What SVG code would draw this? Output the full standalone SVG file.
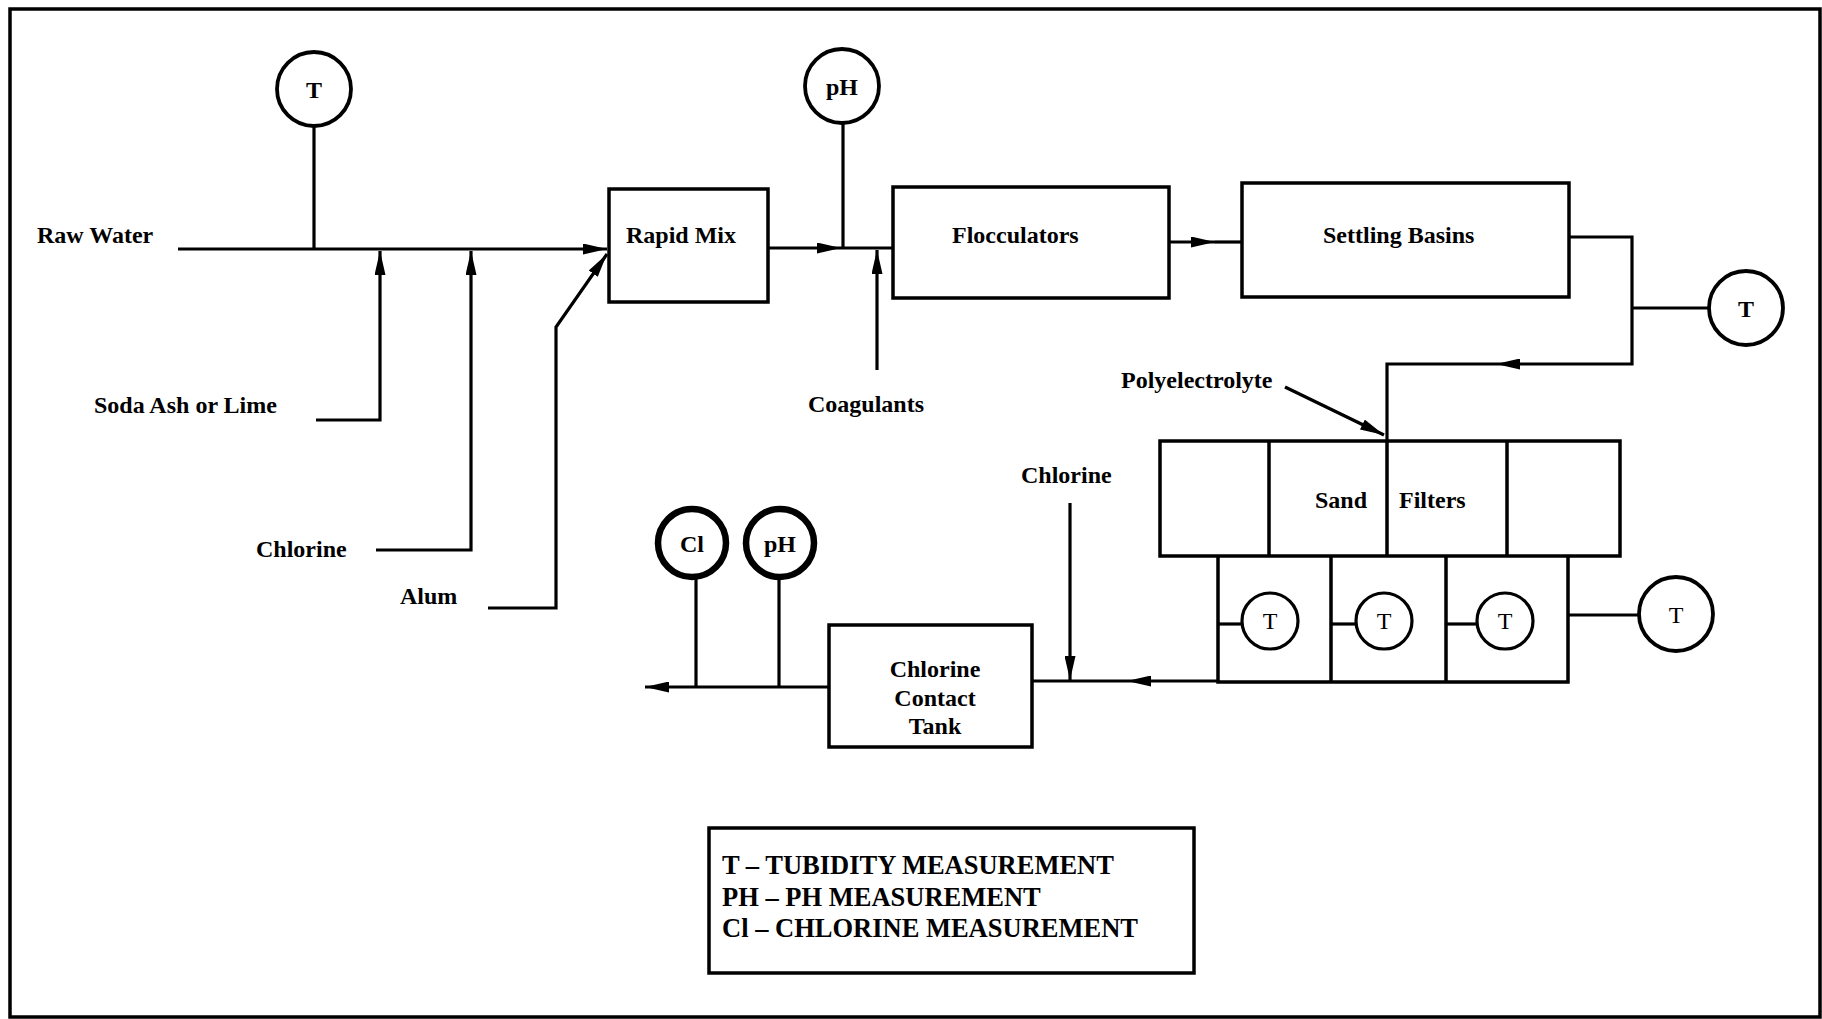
<svg xmlns="http://www.w3.org/2000/svg" width="1822" height="1019" viewBox="0 0 1822 1019">
<style>
  .bg { fill: #ffffff; }
  .frame { fill: none; stroke: #000; stroke-width: 3.5; }
  .box { fill: none; stroke: #000; stroke-width: 3.5; }
  .line { fill: none; stroke: #000; stroke-width: 3.2; }
  .ring { fill: #fff; stroke: #000; stroke-width: 3.8; }
  .ringthick { fill: #fff; stroke: #000; stroke-width: 6.5; }
  .ringthin { fill: #fff; stroke: #000; stroke-width: 3.2; }
  .lbl { font-family: "Liberation Serif", "Times New Roman", serif; font-weight: bold; font-size: 24px; fill: #000; }
  .mid { text-anchor: middle; }
  .sym { font-family: "Liberation Serif", "Times New Roman", serif; font-weight: bold; font-size: 24px; fill: #000; text-anchor: middle; }
  .symr { font-family: "Liberation Serif", "Times New Roman", serif; font-weight: normal; font-size: 24px; fill: #000; text-anchor: middle; }
  .legend { font-family: "Liberation Serif", "Times New Roman", serif; font-weight: bold; font-size: 26.5px; fill: #000; }
</style>
<defs>
  <marker id="arr" markerUnits="userSpaceOnUse" markerWidth="24" markerHeight="11" refX="24" refY="5.5" orient="auto">
    <path d="M0,0 L24,5.5 L0,11 z" fill="#000"/>
  </marker>
</defs>
<rect class="bg" x="0" y="0" width="1822" height="1019"/>
<rect class="frame" x="10" y="9" width="1810" height="1008"/>

<g id="connectors">
  <path class="line" d="M178,249 H607" marker-end="url(#arr)"/>
  <path class="line" d="M314,126 V249"/>
  <path class="line" d="M316,420 H380 V251" marker-end="url(#arr)"/>
  <path class="line" d="M376,550 H471 V251" marker-end="url(#arr)"/>
  <path class="line" d="M488,608 H556 V327 L607,254" marker-end="url(#arr)"/>
  <path class="line" d="M768,248 H841" marker-end="url(#arr)"/>
  <path class="line" d="M841,248 H893"/>
  <path class="line" d="M843,123 V248"/>
  <path class="line" d="M877,370 V250" marker-end="url(#arr)"/>
  <path class="line" d="M1169,242 H1215" marker-end="url(#arr)"/>
  <path class="line" d="M1215,242 H1242"/>
  <path class="line" d="M1569,237 H1632 V364 H1496" marker-end="url(#arr)"/>
  <path class="line" d="M1496,364 H1387 V441"/>
  <path class="line" d="M1632,308 H1709"/>
  <path class="line" d="M1285,387 L1384,435" marker-end="url(#arr)"/>
  <path class="line" d="M1218,681 H1127" marker-end="url(#arr)"/>
  <path class="line" d="M1127,681 H1032"/>
  <path class="line" d="M1070,503 V680" marker-end="url(#arr)"/>
  <path class="line" d="M829,687 H645" marker-end="url(#arr)"/>
  <path class="line" d="M696,578 V687"/>
  <path class="line" d="M779,578 V687"/>
  <path class="line" d="M1218,624 H1242"/>
  <path class="line" d="M1331,624 H1356"/>
  <path class="line" d="M1446,624 H1477"/>
  <path class="line" d="M1568,615 H1639"/>
</g>

<g id="label-raw-water"><text class="lbl" x="37" y="243">Raw Water</text></g>
<g id="label-soda-ash"><text class="lbl" x="94" y="413">Soda Ash or Lime</text></g>
<g id="label-chlorine-left"><text class="lbl" x="256" y="557">Chlorine</text></g>
<g id="label-alum"><text class="lbl" x="400" y="604">Alum</text></g>
<g id="label-coagulants"><text class="lbl" x="808" y="412">Coagulants</text></g>
<g id="label-polyelectrolyte"><text class="lbl" x="1121" y="388">Polyelectrolyte</text></g>
<g id="label-chlorine-right"><text class="lbl" x="1021" y="483">Chlorine</text></g>

<g id="sensor-t-raw">
  <circle class="ring" cx="314" cy="89" r="37"/>
  <text class="sym" x="314" y="98">T</text>
</g>
<g id="rapid-mix">
  <rect class="box" x="609" y="189" width="159" height="113"/>
  <text class="lbl mid" x="681" y="243">Rapid Mix</text>
</g>
<g id="sensor-ph-top">
  <circle class="ring" cx="842" cy="86" r="37"/>
  <text class="sym" x="842" y="95">pH</text>
</g>
<g id="flocculators">
  <rect class="box" x="893" y="187" width="276" height="111"/>
  <text class="lbl" x="952" y="243">Flocculators</text>
</g>
<g id="settling-basins">
  <rect class="box" x="1242" y="183" width="327" height="114"/>
  <text class="lbl" x="1323" y="243">Settling Basins</text>
</g>
<g id="sensor-t-settled">
  <circle class="ring" cx="1746" cy="308" r="37"/>
  <text class="sym" x="1746" y="317">T</text>
</g>
<g id="sand-filters">
  <rect class="box" x="1160" y="441" width="460" height="115"/>
  <path class="box" d="M1269,441 V556 M1387,441 V556 M1507,441 V556"/>
  <text class="lbl" x="1315" y="508">Sand</text>
  <text class="lbl" x="1399" y="508">Filters</text>
  <path class="box" d="M1218,556 V682 H1568 V556 M1331,556 V682 M1446,556 V682"/>
</g>
<g id="sensor-t-filter-1">
  <circle class="ringthin" cx="1270" cy="621" r="28"/>
  <text class="symr" x="1270" y="629">T</text>
</g>
<g id="sensor-t-filter-2">
  <circle class="ringthin" cx="1384" cy="621" r="28"/>
  <text class="symr" x="1384" y="629">T</text>
</g>
<g id="sensor-t-filter-3">
  <circle class="ringthin" cx="1505" cy="621" r="28"/>
  <text class="symr" x="1505" y="629">T</text>
</g>
<g id="sensor-t-filter-out">
  <circle class="ring" cx="1676" cy="614" r="37"/>
  <text class="symr" x="1676" y="623">T</text>
</g>
<g id="chlorine-contact-tank">
  <rect class="box" x="829" y="625" width="203" height="122"/>
  <text class="lbl mid" x="935" y="677">Chlorine</text>
  <text class="lbl mid" x="935" y="706">Contact</text>
  <text class="lbl mid" x="935" y="734">Tank</text>
</g>
<g id="sensor-cl">
  <circle class="ringthick" cx="692" cy="543" r="34"/>
  <text class="sym" x="692" y="552">Cl</text>
</g>
<g id="sensor-ph-bottom">
  <circle class="ringthick" cx="780" cy="543" r="34"/>
  <text class="sym" x="780" y="552">pH</text>
</g>
<g id="legend">
  <rect class="box" x="709" y="828" width="485" height="145" stroke-width="3"/>
  <text class="legend" x="722" y="874">T – TUBIDITY MEASUREMENT</text>
  <text class="legend" x="722" y="906">PH – PH MEASUREMENT</text>
  <text class="legend" x="722" y="937">Cl – CHLORINE MEASUREMENT</text>
</g>
</svg>
